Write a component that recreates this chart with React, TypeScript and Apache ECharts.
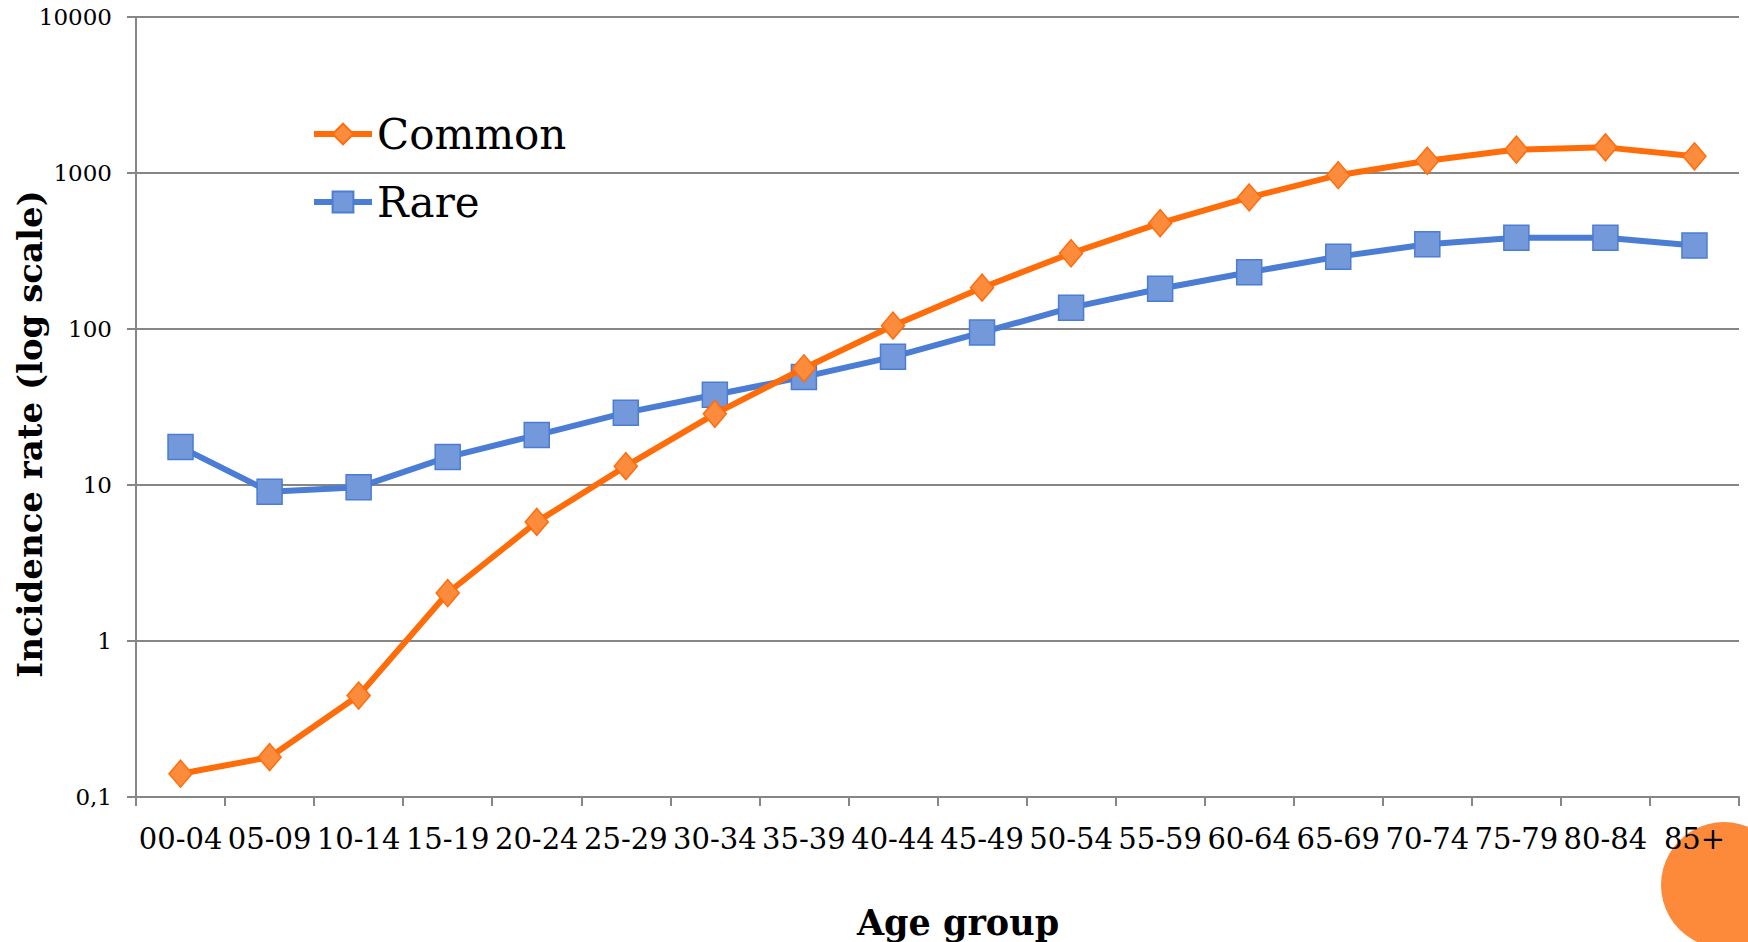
import React, { useEffect, useRef } from "react";
import * as echarts from "echarts";

const categories = ["00-04","05-09","10-14","15-19","20-24","25-29","30-34","35-39","40-44","45-49","50-54","55-59","60-64","65-69","70-74","75-79","80-84","85+"];
const commonValues = [0.141, 0.18, 0.447, 2.03, 5.8, 13.2, 28.6, 56, 105, 184, 306, 477, 697, 968, 1198, 1413, 1460, 1280];
const rareValues = [17.5, 9.06, 9.68, 15.1, 20.9, 29.1, 37.9, 49.3, 66.3, 95, 137, 181, 231, 291, 349, 385, 385, 343];
const yTickLabels: Record<string, string> = { "0.1": "0,1", "1": "1", "10": "10", "100": "100", "1000": "1000", "10000": "10000" };
const xTitle = "Age group";
const yTitle = "Incidence rate (log scale)";

const FONT = "'DejaVu Serif', serif";

export default function App() {
  const ref = useRef<HTMLDivElement>(null);
  useEffect(() => {
    if (!ref.current) return;
    const chart = echarts.init(ref.current, null, { renderer: "svg" });
    chart.setOption({
      animation: false,
      backgroundColor: "#ffffff",
      grid: { left: 136, right: 9, top: 17, bottom: 145, containLabel: false, outerBoundsMode: "none" },
      legend: {
        orient: "vertical",
        left: 306,
        top: 108,
        itemWidth: 58,
        itemHeight: 26,
        itemGap: 26,
        lineStyle: { width: 6 },
        textStyle: { fontFamily: FONT, fontSize: 42, color: "#000" },
        data: ["Common", "Rare"],
      },
      xAxis: {
        type: "category",
        data: categories,
        boundaryGap: true,
        axisLine: { lineStyle: { color: "#868686", width: 2 } },
        axisTick: { show: true, length: 9, alignWithLabel: false, lineStyle: { color: "#868686", width: 2 } },
        axisLabel: { fontFamily: FONT, fontSize: 29, color: "#000", margin: 27, interval: 0 },
        splitLine: { show: false },
      },
      yAxis: {
        type: "log",
        logBase: 10,
        min: 0.1,
        max: 10000,
        axisLine: { show: true, lineStyle: { color: "#868686", width: 2 } },
        axisTick: { show: true, length: 9, lineStyle: { color: "#868686", width: 2 } },
        axisLabel: {
          fontFamily: FONT,
          fontSize: 23,
          color: "#000",
          margin: 24,
          formatter: (v: number) => {
            const keys = Object.keys(yTickLabels);
            for (const k of keys) {
              if (Math.abs(Number(k) - v) < 1e-9 * Math.max(1, v)) return yTickLabels[k];
            }
            return String(v);
          },
        },
        splitLine: { show: true, lineStyle: { color: "#868686", width: 2 } },
      },
      series: [
        {
          name: "Common",
          type: "line",
          data: commonValues,
          symbol: "diamond",
          symbolSize: [23, 27],
          lineStyle: { color: "#FF6C0A", width: 6 },
          itemStyle: { color: "#FD8B3C", borderColor: "#FF6C0A", borderWidth: 1.5 },
          z: 3,
        },
        {
          name: "Rare",
          type: "line",
          data: rareValues,
          symbol: "rect",
          symbolSize: 25,
          lineStyle: { color: "#4A7DD3", width: 6 },
          itemStyle: { color: "#7399DB", borderColor: "#4A7DD3", borderWidth: 1.5 },
          z: 2,
        },
      ],
      graphic: [
        {
          type: "circle",
          shape: { cx: 1724, cy: 885, r: 63 },
          style: { fill: "#FD8A3B" },
          z: 0,
        },
        {
          type: "text",
          x: 958,
          y: 922,
          style: { text: xTitle, fontFamily: FONT, fontSize: 35, fontWeight: "bold", fill: "#000", align: "center", verticalAlign: "middle" },
        },
        {
          type: "text",
          x: 30,
          y: 434,
          rotation: Math.PI / 2,
          style: { text: yTitle, fontFamily: FONT, fontSize: 34, fontWeight: "bold", fill: "#000", align: "center", verticalAlign: "middle" },
        },
      ],
    });
    return () => chart.dispose();
  }, []);
  return <div ref={ref} style={{ position: "absolute", left: 0, top: 0, width: 1748, height: 942 }} />;
}
